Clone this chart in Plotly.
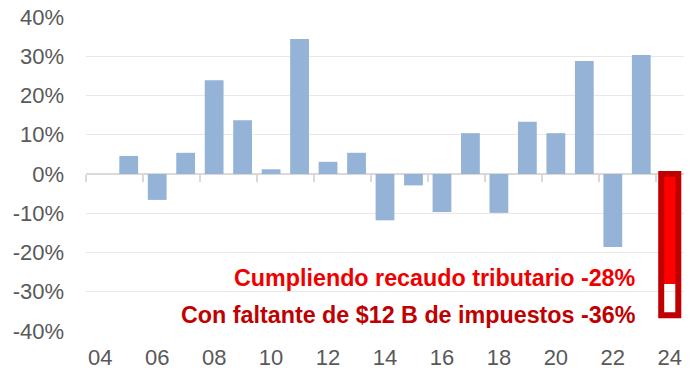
import plotly.graph_objects as go

years = list(range(2004, 2024))
growth = [None, 4.6, -6.6, 5.4, 23.9, 13.7, 1.2, 34.4, 3.1, 5.4,
          -11.8, -2.9, -9.7, 10.4, -9.9, 13.3, 10.4, 28.8, -18.6, 30.3]
proj_year = [2024]
proj_compliant = [-28]
proj_shortfall = [-36]
label_compliant = "Cumpliendo recaudo tributario -28%"
label_shortfall = "Con faltante de $12 B de impuestos -36%"
ytick_vals = [-40, -30, -20, -10, 0, 10, 20, 30, 40]
ytick_text = ["-40%", "-30%", "-20%", "-10%", "0%", "10%", "20%", "30%", "40%"]
xtick_vals = list(range(2004, 2025, 2))
xtick_text = ["04", "06", "08", "10", "12", "14", "16", "18", "20", "22", "24"]
boundaries = [y - 0.5 for y in range(2004, 2025, 2)]

FONT = "Liberation Sans, Arial, sans-serif"
ymin, ymax = -40, 40
zero_pos = (0 - ymin) / (ymax - ymin)

fig = go.Figure()
fig.add_trace(go.Bar(x=years, y=growth, marker=dict(color="#95b3d7", line=dict(width=0)),
                     width=0.66, xaxis="x", yaxis="y", hoverinfo="skip"))
fig.add_trace(go.Bar(x=proj_year, y=proj_compliant, marker=dict(color="#ff0000", line=dict(width=0)),
                     width=0.6, xaxis="x2", yaxis="y", hoverinfo="skip"))
fig.add_trace(go.Bar(x=proj_year, y=proj_shortfall,
                     marker=dict(color="rgba(0,0,0,0)", line=dict(color="#c00000", width=6)),
                     width=0.6, xaxis="x2", yaxis="y", hoverinfo="skip"))

fig.add_annotation(x=proj_year[0] - 1.12, y=proj_compliant[0] + 1.45, xref="x", yref="y",
                   text=label_compliant, showarrow=False, xanchor="right", yanchor="middle",
                   font=dict(family=FONT, size=23.3, color="#ee0000", weight="bold"))
fig.add_annotation(x=proj_year[0] - 1.12, y=proj_shortfall[0] + 0.1, xref="x", yref="y",
                   text=label_shortfall, showarrow=False, xanchor="right", yanchor="middle",
                   font=dict(family=FONT, size=23.3, color="#c00000", weight="bold"))

fig.update_layout(
    width=700, height=375,
    margin=dict(l=86, r=16, t=17, b=44),
    paper_bgcolor="white", plot_bgcolor="white",
    barmode="overlay", showlegend=False,
    xaxis=dict(range=[2003.5, 2024.5], tickvals=xtick_vals, ticktext=xtick_text,
               showgrid=False, zeroline=False, showline=False, ticks="",
               tickfont=dict(family=FONT, size=22, color="#595959"),
               ticklabelstandoff=11, automargin=False),
    xaxis2=dict(overlaying="x", matches="x", anchor="free", position=zero_pos,
                showline=True, linecolor="#d9d9d9", linewidth=2, layer="below traces",
                ticks="outside", tickvals=boundaries, ticklen=7, tickwidth=2,
                tickcolor="#d9d9d9", showticklabels=False, showgrid=False, zeroline=False,
                automargin=False),
    yaxis=dict(range=[ymin, ymax], tickvals=ytick_vals, ticktext=ytick_text,
               showgrid=True, gridcolor="#e8e8e8", gridwidth=1, zeroline=False,
               showline=False, ticks="",
               tickfont=dict(family=FONT, size=22, color="#595959"),
               ticklabelstandoff=21, automargin=False),
)

fig.write_html("out.html", config={"displayModeBar": False},
               post_script="document.body.style.margin='0';")
